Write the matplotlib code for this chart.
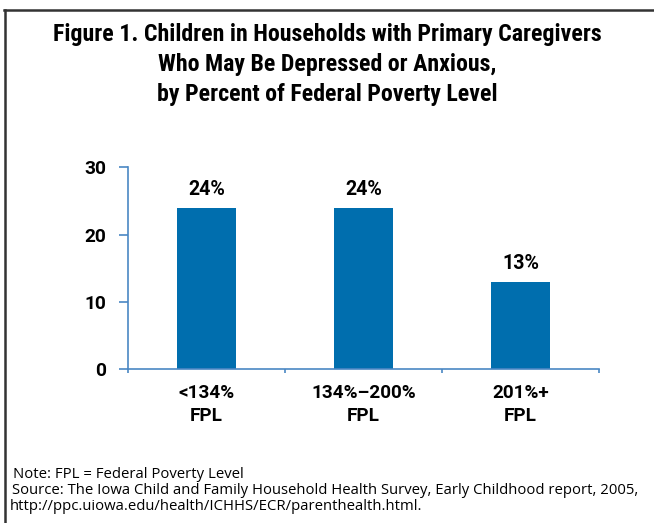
import matplotlib
matplotlib.use("Agg")
import matplotlib.pyplot as plt
from matplotlib.lines import Line2D

categories = ["<134%\nFPL", "134%\u2013200%\nFPL", "201%+\nFPL"]
values = [24, 24, 13]
bar_labels = ["24%", "24%", "13%"]
yticks = [0, 10, 20, 30]

title_lines = ["Figure 1. Children in Households with Primary Caregivers",
               "Who May Be Depressed or Anxious,",
               "by Percent of Federal Poverty Level"]
note = "Note: FPL = Federal Poverty Level"
source = ("Source: The Iowa Child and Family Household Health Survey, "
          "Early Childhood report, 2005,")
url = "http://ppc.uiowa.edu/health/ICHHS/ECR/parenthealth.html."

bar_color = "#006EAE"
axis_color = "#4A87C4"
cond = ["Roboto Condensed", "DejaVu Sans"]
bold = ["Roboto", "DejaVu Sans"]
foot = ["Open Sans", "DejaVu Sans"]

fig = plt.figure(figsize=(6.54, 5.23), dpi=100)
ax = fig.add_axes([0.1957, 0.2945, 0.7202, 0.3856])


def fitted_size(texts, target_px):
    # font size at which the widest of the texts spans target_px
    r = fig.canvas.get_renderer()
    w = max(t.get_window_extent(r).width for t in texts)
    return texts[0].get_fontsize() * target_px / w


x = range(len(values))
ax.bar(x, values, width=0.37, color=bar_color, zorder=2)
labs = []
for xi, v, lab in zip(x, values, bar_labels):
    labs.append(ax.annotate(lab, (xi, v), xytext=(0, 13),
                            textcoords="offset points", ha="center",
                            va="center", fontsize=14, fontweight="bold",
                            family=bold))

ax.set_xlim(-0.5, len(values) - 0.5)
ax.set_ylim(0, 30)
ax.set_yticks(yticks)
ax.set_yticklabels([str(t) for t in yticks], fontsize=14, fontweight="bold",
                   family=bold)

# tick marks at category boundaries, labels at centres
ax.set_xticks([i - 0.5 for i in range(len(values) + 1)])
ax.set_xticklabels([])
ax.set_xticks(list(x), minor=True)
ax.set_xticklabels(categories, minor=True, fontsize=14, fontweight="bold",
                   family=bold, linespacing=1.35)
ax.tick_params(axis="x", which="minor", length=0, pad=11)
ax.tick_params(axis="x", which="major", direction="out", length=3,
               color=axis_color, width=1.2)
ax.tick_params(axis="y", direction="out", length=6.3, color=axis_color,
               width=1.2, pad=9.5)

for side in ["top", "right"]:
    ax.spines[side].set_visible(False)
for side in ["left", "bottom"]:
    ax.spines[side].set_color(axis_color)
    ax.spines[side].set_linewidth(1.2)

title_y = [34, 65, 94]
tts = [fig.text(0.5, 1 - yy / 523, s, ha="center", va="center", fontsize=17,
                fontweight="bold", family=cond)
       for s, yy in zip(title_lines, title_y)]

t_note = fig.text(13 / 654, 1 - 474 / 523, note, ha="left", va="center",
                  fontsize=10, family=foot)
t_src = fig.text(12 / 654, 1 - 490 / 523, source, ha="left", va="center",
                 fontsize=10, family=foot)
t_url = fig.text(10 / 654, 1 - 507 / 523, url, ha="left", va="center",
                 fontsize=10, family=foot)

fig.canvas.draw()
s = fitted_size([tts[0]], 548)
for t in tts:
    t.set_fontsize(s)
s = fitted_size([t_src], 626)
for t in (t_note, t_src, t_url):
    t.set_fontsize(s)
s = fitted_size(labs, 37)
for t in labs:
    t.set_fontsize(s)
s = fitted_size(ax.get_xticklabels(minor=True), 105)
for t in ax.get_xticklabels(minor=True):
    t.set_fontsize(s)
y30 = [l for l in ax.get_yticklabels() if l.get_text() == "30"]
s = fitted_size(y30, 22)
for t in ax.get_yticklabels():
    t.set_fontsize(s)

# frame lines (left and top only visible)
fig.add_artist(Line2D([0.007, 0.007], [0.0, 0.981], transform=fig.transFigure,
                      color="#333333", lw=1.8))
fig.add_artist(Line2D([0.006, 1.0], [0.981, 0.981], transform=fig.transFigure,
                      color="#333333", lw=1.8))

fig.savefig("out.png", dpi=100)
